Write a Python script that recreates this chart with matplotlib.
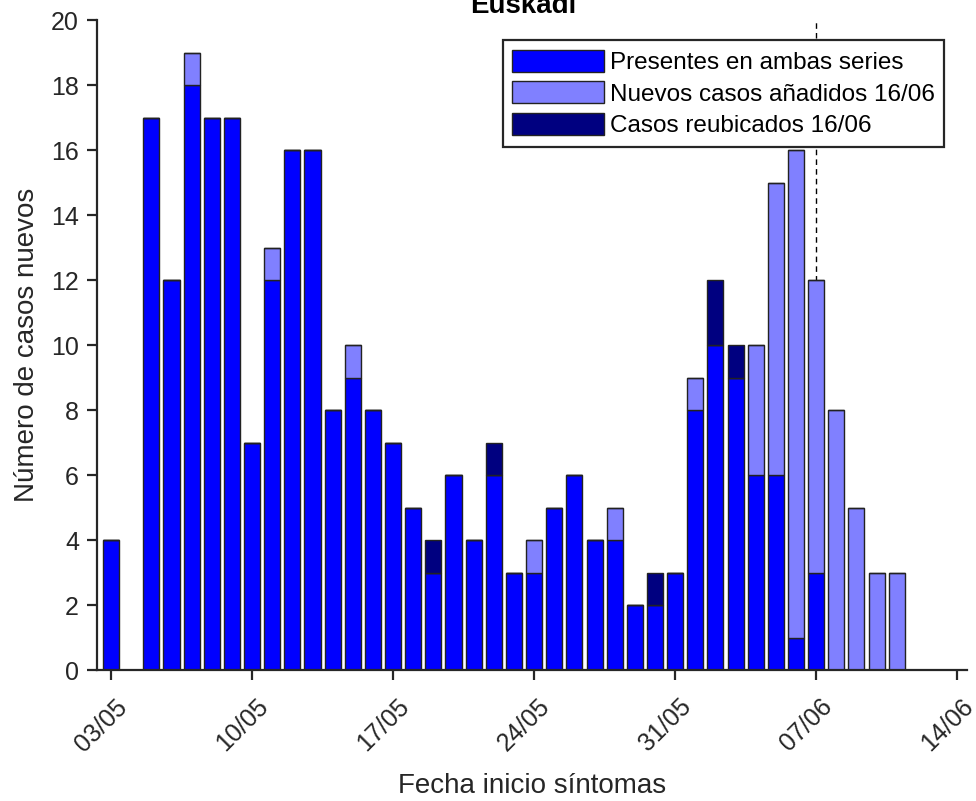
import numpy as np
import pandas as pd
import matplotlib
matplotlib.use('Agg')
import matplotlib.pyplot as plt
import matplotlib.dates as mdates
import matplotlib.transforms as mtransforms

plt.rcParams['font.family'] = ['Liberation Sans', 'DejaVu Sans']

fechas = pd.date_range('2020-05-03', '2020-06-11', freq='D')

# casos por fecha de inicio de sintomas
presentes = [4, 0, 17, 12, 18, 17, 17, 7, 12, 16,
             16, 8, 9, 8, 7, 5, 3, 6, 4, 6,
             3, 3, 5, 6, 4, 4, 2, 2, 3, 8,
             10, 9, 6, 6, 1, 3, 0, 0, 0, 0]
nuevos = [0, 0, 0, 0, 1, 0, 0, 0, 1, 0,
          0, 0, 1, 0, 0, 0, 0, 0, 0, 0,
          0, 1, 0, 0, 0, 1, 0, 0, 0, 1,
          0, 0, 4, 9, 15, 9, 8, 5, 3, 3]
reubicados = [0, 0, 0, 0, 0, 0, 0, 0, 0, 0,
              0, 0, 0, 0, 0, 0, 1, 0, 0, 1,
              0, 0, 0, 0, 0, 0, 0, 1, 0, 0,
              2, 1, 0, 0, 0, 0, 0, 0, 0, 0]
etiquetas = ['Presentes en ambas series', 'Nuevos casos añadidos 16/06',
             'Casos reubicados 16/06']

presentes = np.array(presentes)
nuevos = np.array(nuevos)
reubicados = np.array(reubicados)

eje_col = '#262626'
fig = plt.figure(figsize=(9.76, 8.01), dpi=100)
ax = fig.add_axes([0.0994, 0.1635, 0.8916, 0.8115])

ax.axvline(pd.Timestamp('2020-06-07'), color='k', ls=(0, (4, 3)), lw=1, zorder=1)

kw = dict(width=0.8, edgecolor='#222222', linewidth=1.0, zorder=2)
ax.bar(fechas, presentes, color='#0000ff', label=etiquetas[0], **kw)
ax.bar(fechas, nuevos, bottom=presentes, color='#8080ff', label=etiquetas[1], **kw)
ax.bar(fechas, reubicados, bottom=presentes + nuevos, color='#000080',
       label=etiquetas[2], **kw)

ax.set_xlim(pd.Timestamp('2020-05-03') - pd.Timedelta(days=0.7),
            pd.Timestamp('2020-06-14') + pd.Timedelta(days=0.5))
ax.set_ylim(0, 20)
ax.set_yticks(range(0, 21, 2))
ax.set_xticks(pd.date_range('2020-05-03', '2020-06-14', freq='7D'))
ax.xaxis.set_major_formatter(mdates.DateFormatter('%d/%m'))

for s in ['top', 'right']:
    ax.spines[s].set_visible(False)
for s in ['left', 'bottom']:
    ax.spines[s].set_linewidth(1.6)
    ax.spines[s].set_color(eje_col)
ax.tick_params(direction='out', length=7, width=1.6, color=eje_col,
               labelcolor=eje_col, labelsize=18)
ax.tick_params(axis='y', pad=6)

# etiquetas de fecha giradas, algo desplazadas hacia abajo y a la derecha
desplaza = mtransforms.ScaledTranslation(0.035, -0.10, fig.dpi_scale_trans)
for lab in ax.get_xticklabels():
    lab.set_rotation(45)
    lab.set_ha('right')
    lab.set_rotation_mode('anchor')
    lab.set_transform(lab.get_transform() + desplaza)

ax.set_xlabel('Fecha inicio síntomas', fontsize=20, color=eje_col, labelpad=12)
ax.set_ylabel('Número de casos nuevos', fontsize=20, color=eje_col, labelpad=8)
fig.text(0.536, 0.984, 'Euskadi', fontsize=20, fontweight='bold',
         ha='center', va='baseline')

leg = ax.legend(loc='upper right', bbox_to_anchor=(0.9736, 0.969), borderaxespad=0,
                fontsize=17.5, handlelength=3.75, handleheight=1.0, handletextpad=0.25,
                labelspacing=0.30, borderpad=0.40, fancybox=False, framealpha=1)
leg.get_frame().set_edgecolor(eje_col)
leg.get_frame().set_linewidth(1.6)

fig.savefig('out.png', dpi=100)
